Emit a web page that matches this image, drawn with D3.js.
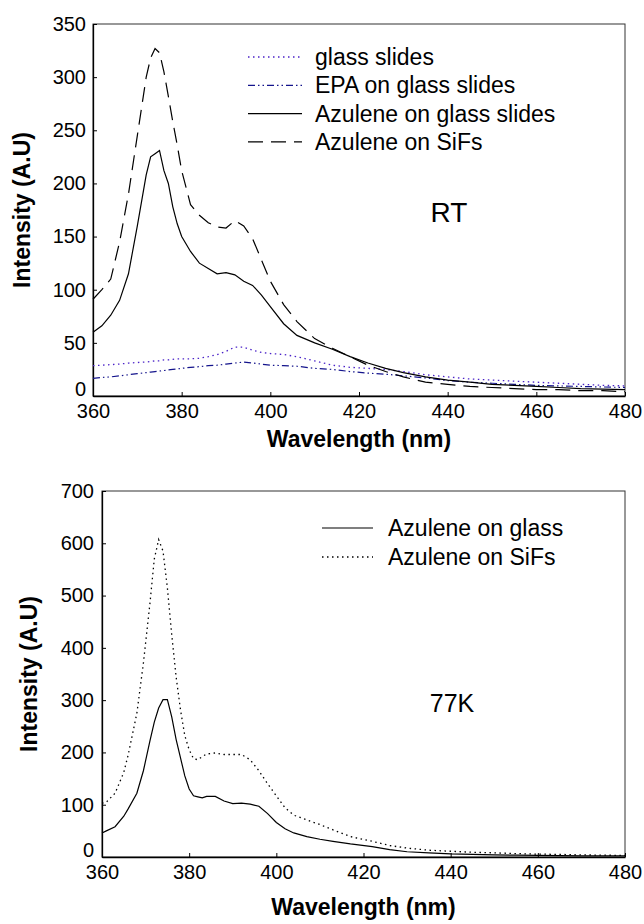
<!DOCTYPE html>
<html>
<head>
<meta charset="utf-8">
<script src="https://cdn.jsdelivr.net/npm/d3@7"></script>
<style>
  body { margin: 0; background: #fff; }
  svg { font-family: "Liberation Sans", Arial, sans-serif; }
  .tick text { font-size: 20px; fill: #000; }
  .axisTitle { font-weight: bold; font-size: 23px; }
</style>
</head>
<body>
<div id="chart"></div>
<script>
// ---- data ----
var topWl = [360, 362, 364, 366, 368, 370, 372, 373, 374, 375, 376, 377, 378, 379, 380, 382, 384, 386, 388, 390, 392, 394, 396, 398, 400, 403, 406, 410, 414, 418, 422, 426, 430, 435, 440, 445, 450, 455, 460, 465, 470, 475, 480];
var glassSlides = [28.5, 29, 29.5, 30, 31, 31.5, 32, 32.5, 33, 33, 34, 34, 34.5, 35, 35, 35, 35.5, 37, 39, 42, 46, 46, 43, 41, 40, 39, 37, 33, 29, 27, 26, 25, 23, 20, 18, 16, 15, 14, 13, 12, 11, 10, 9.5];
var epaGlass = [16.6, 17.5, 18, 19, 20, 21, 22, 22.5, 23, 23.5, 24, 24.5, 25, 25.5, 26, 27, 27.6, 28.5, 29, 30, 31, 32, 31, 30, 29, 28.5, 28, 26, 25, 23, 21.5, 20.5, 19, 17, 14.5, 13, 12, 11, 10, 9.5, 9, 8.5, 8];
var azuGlassRT = [60, 66, 76, 90, 115, 160, 208, 225, 228, 231, 212, 200, 178, 162, 150, 136, 125, 120, 115, 116, 114, 108, 104, 95, 84, 68, 57, 50, 44, 37, 31, 26, 22, 18, 15, 13, 11, 10, 9, 8, 7, 6.5, 6];
var azuSifsRT = [91, 100, 110, 145, 190, 245, 300, 318, 327, 323, 305, 282, 258, 236, 212, 180, 170, 163, 159, 158, 165, 160, 148, 128, 108, 86, 70, 54, 45, 37, 29, 23, 18, 13, 11, 9, 8, 7, 6, 6, 5, 5, 4];

var lowWl = [360, 361, 363, 365, 366, 368, 369.5, 371, 372, 373, 374, 375, 376, 377, 378, 379, 380, 381, 382, 383, 384, 386, 388, 390, 392, 394, 396, 398, 400, 402, 404, 407, 410, 413, 417, 422, 426, 430, 435, 440, 445, 450, 455, 460, 465, 470, 475, 480];
var azuGlass77 = [46, 50, 58, 78, 92, 122, 165, 222, 258, 285, 301, 301, 268, 225, 190, 155, 130, 117, 115, 113, 116, 116, 107, 102, 103, 101, 97, 83, 66, 54, 46, 39, 34, 30, 25, 20, 14, 10, 8, 6, 5, 4, 3.5, 3, 2.5, 2.2, 2, 2];
var azuSifs77 = [103, 105, 122, 162, 195, 275, 371, 485, 570, 607, 585, 515, 425, 345, 282, 232, 205, 188, 186, 192, 197, 199, 196, 196, 196, 186, 165, 140, 117, 94, 80, 71, 62, 52, 39, 30, 22, 17, 13, 11, 9, 8, 6.5, 5.5, 5, 4, 3.5, 3];

var xTicks = [360, 380, 400, 420, 440, 460, 480];
var yTicksTop = [0, 50, 100, 150, 200, 250, 300, 350];
var yTicksLow = [0, 100, 200, 300, 400, 500, 600, 700];

var W = 644, H = 924;
var svg = d3.select("#chart").append("svg").attr("width", W).attr("height", H);

var dotted = "1.5,3.5";
var dashDotDot = "7,3,1.5,3,1.5,3";
var longDash = "15,8";

function panel(cfg) {
  var x = d3.scaleLinear().domain([360, 480]).range([cfg.left, cfg.right]);
  var y = d3.scaleLinear().domain([0, cfg.yMax]).range([cfg.bottom, cfg.top]);

  // frame
  svg.append("rect")
    .attr("x", cfg.left).attr("y", cfg.top)
    .attr("width", cfg.right - cfg.left).attr("height", cfg.bottom - cfg.top)
    .attr("fill", "none").attr("stroke", "#333").attr("stroke-width", 1);

  var gx = svg.append("g")
    .attr("transform", "translate(0," + cfg.bottom + ")")
    .call(d3.axisBottom(x).tickValues(xTicks).tickSize(-4).tickSizeOuter(0).tickPadding(8).tickFormat(d3.format("d")));
  var gy = svg.append("g")
    .attr("transform", "translate(" + cfg.left + ",0)")
    .call(d3.axisLeft(y).tickValues(cfg.yTicks).tickSize(-4).tickSizeOuter(0).tickPadding(cfg.yPad).tickFormat(d3.format("d")));
  gx.select(".domain").attr("stroke-width", 1.3);
  gy.select(".domain").attr("stroke-width", 1.3);
  // the zero label sits just above the first x label
  gy.selectAll(".tick text").filter(function(d) { return d === 0; }).attr("dy", "-0.05em");

  svg.append("text").attr("class", "axisTitle")
    .attr("text-anchor", "middle")
    .attr("x", (cfg.left + cfg.right) / 2).attr("y", cfg.xTitleY)
    .text("Wavelength (nm)");
  svg.append("text").attr("class", "axisTitle")
    .attr("text-anchor", "middle")
    .attr("transform", "translate(" + cfg.yTitleX + "," + (cfg.top + cfg.bottom) / 2 + ") rotate(-90)")
    .text("Intensity (A.U)");

  var line = d3.line().x(function(d) { return x(d[0]); }).y(function(d) { return y(d[1]); });

  cfg.series.forEach(function(s) {
    var pts = cfg.wl.map(function(w, i) { return [w, s.values[i]]; });
    svg.append("path")
      .datum(pts)
      .attr("d", line)
      .attr("fill", "none")
      .attr("stroke", s.color)
      .attr("stroke-width", s.width || 1.2)
      .attr("stroke-dasharray", s.dash);
  });

  // legend
  cfg.series.forEach(function(s, i) {
    var ly = cfg.legY + i * cfg.legStep;
    svg.append("line")
      .attr("x1", cfg.legX1).attr("x2", cfg.legX2)
      .attr("y1", ly).attr("y2", ly)
      .attr("stroke", s.color).attr("stroke-width", s.width || 1.2)
      .attr("stroke-dasharray", s.dash);
    svg.append("text")
      .attr("x", cfg.legText).attr("y", ly + 8)
      .attr("font-size", 23)
      .text(s.name);
  });

  svg.append("text")
    .attr("x", cfg.tagX).attr("y", cfg.tagY)
    .attr("text-anchor", "middle")
    .attr("font-size", cfg.tagSize)
    .text(cfg.tag);
}

panel({
  left: 93, right: 625, top: 24, bottom: 396, yMax: 350, yTicks: yTicksTop, yPad: 7,
  xTitleY: 447, yTitleX: 30, wl: topWl,
  series: [
    { name: "glass slides", values: glassSlides, color: "#4a22c8", dash: dotted, width: 1.3 },
    { name: "EPA on glass slides", values: epaGlass, color: "#14148c", dash: dashDotDot },
    { name: "Azulene on glass slides", values: azuGlassRT, color: "#000", dash: null },
    { name: "Azulene on SiFs", values: azuSifsRT, color: "#000", dash: longDash }
  ],
  legX1: 248, legX2: 302, legText: 315, legY: 57, legStep: 28.3,
  tag: "RT", tagX: 449, tagY: 222, tagSize: 28
});

panel({
  left: 102, right: 625, top: 491, bottom: 857, yMax: 700, yTicks: yTicksLow, yPad: 8,
  xTitleY: 915, yTitleX: 37, wl: lowWl,
  series: [
    { name: "Azulene on glass", values: azuGlass77, color: "#000", dash: null },
    { name: "Azulene on SiFs", values: azuSifs77, color: "#000", dash: dotted, width: 1.3 }
  ],
  legX1: 322, legX2: 373, legText: 388, legY: 528, legStep: 29,
  tag: "77K", tagX: 452, tagY: 712, tagSize: 25
});
</script>
</body>
</html>
